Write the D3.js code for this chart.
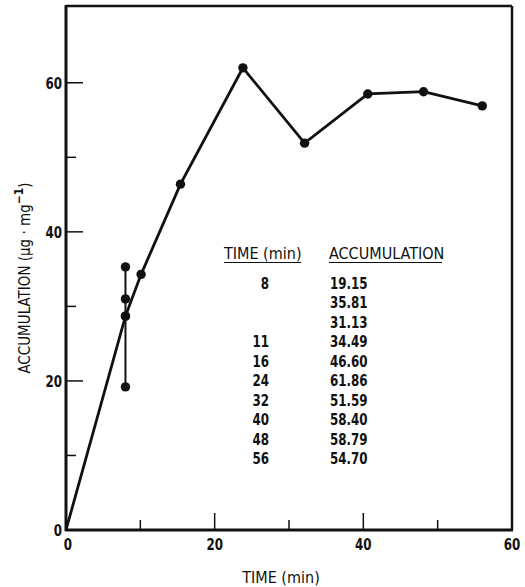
<!DOCTYPE html>
<html>
<head>
<meta charset="utf-8">
<script src="https://cdn.jsdelivr.net/npm/d3@7"></script>
<style>
  body { margin: 0; background: #fff; }
  svg text { font-family: "DejaVu Sans Condensed", "Liberation Sans Narrow", sans-serif; fill: #111; }
</style>
</head>
<body>
<svg id="chart"></svg>
<script>
// plotted line (time, accumulation), line starts at origin
const lineTimes = [0, 8, 10.1, 15.4, 23.8, 32.1, 40.6, 48.1, 56];
const lineValues = [0, 28.7, 34.3, 46.4, 62.0, 51.9, 58.5, 58.8, 56.9];
// replicate readings at 8 min (incl. the mean drawn on the line)
const repTime = 8;
const repValues = [19.2, 35.3, 31.0, 28.7];
// inset table text
const tableTimes = ["8", "", "", "11", "16", "24", "32", "40", "48", "56"];
const tableAcc = ["19.15", "35.81", "31.13", "34.49", "46.60", "61.86", "51.59", "58.40", "58.79", "54.70"];
const majorTicks = [0, 20, 40, 60];
const minorX = [10, 30, 50];
const minorY = [10, 30, 50];

const W = 525, H = 587;
const margin = { top: 6, right: 13, bottom: 57, left: 66 };
const SQ = 0.8; // horizontal squeeze for the condensed digits

const svg = d3.select("#chart").attr("width", W).attr("height", H);

const x = d3.scaleLinear().domain([0, 60]).range([margin.left, W - margin.right]);
const y = d3.scaleLinear().domain([0, 70.3]).range([H - margin.bottom, margin.top]);

const x0 = x(0), x1 = x(60), y0 = y(0), yTop = margin.top;

// frame: top and right lines
svg.append("line").attr("x1", x0).attr("x2", x1).attr("y1", yTop).attr("y2", yTop)
  .attr("stroke", "#111").attr("stroke-width", 2.5);
svg.append("line").attr("x1", x1).attr("x2", x1).attr("y1", yTop).attr("y2", y0)
  .attr("stroke", "#111").attr("stroke-width", 2.5);

// x axis: ticks point inward
const xAxis = svg.append("g").attr("transform", `translate(0,${y0})`);
xAxis.append("line").attr("x1", x0 - 1).attr("x2", x1 + 1).attr("stroke", "#111").attr("stroke-width", 3);
xAxis.selectAll(".maj").data(majorTicks.slice(1, 3)).join("line")
  .attr("x1", d => x(d)).attr("x2", d => x(d)).attr("y1", 0).attr("y2", -17)
  .attr("stroke", "#111").attr("stroke-width", 1.5);
xAxis.selectAll(".min").data(minorX).join("line")
  .attr("x1", d => x(d)).attr("x2", d => x(d)).attr("y1", 0).attr("y2", -10)
  .attr("stroke", "#111").attr("stroke-width", 1.5);
xAxis.selectAll("text").data(majorTicks).join("text")
  .attr("transform", d => `translate(${x(d) + (d === 0 ? 2 : 0)},20) scale(${SQ},1)`)
  .attr("text-anchor", "middle").style("font-size", "16.5px").style("font-weight", "bold")
  .text(d => d);

// y axis: ticks point inward
const yAxis = svg.append("g").attr("transform", `translate(${x0},0)`);
yAxis.append("line").attr("y1", yTop - 1).attr("y2", y0 + 1).attr("stroke", "#111").attr("stroke-width", 3);
yAxis.selectAll(".maj").data(majorTicks.slice(1, 4)).join("line")
  .attr("y1", d => y(d)).attr("y2", d => y(d)).attr("x1", 0).attr("x2", 17)
  .attr("stroke", "#111").attr("stroke-width", 1.5);
yAxis.selectAll(".min").data(minorY).join("line")
  .attr("y1", d => y(d)).attr("y2", d => y(d)).attr("x1", 0).attr("x2", 10)
  .attr("stroke", "#111").attr("stroke-width", 1.5);
yAxis.selectAll("text").data(majorTicks).join("text")
  .attr("transform", d => `translate(-4,${y(d) + 6}) scale(${SQ},1)`)
  .attr("text-anchor", "end").style("font-size", "16.5px").style("font-weight", "bold")
  .text(d => d);

// axis titles
svg.append("text").attr("x", 281).attr("y", 583).attr("text-anchor", "middle")
  .style("font-size", "16px").text("TIME (min)");

const yl = svg.append("text").attr("transform", "translate(30,278) rotate(-90)")
  .attr("text-anchor", "middle").style("font-size", "15px");
yl.append("tspan").text("ACCUMULATION (\u03BCg \u00B7 mg");
yl.append("tspan").attr("dy", -7).style("font-size", "12px").style("font-weight", "bold").text("\u22121");
yl.append("tspan").attr("dy", 7).text(")");

// data line
const line = d3.line().x(d => x(d[0])).y(d => y(d[1]));
const pts = lineTimes.map((t, i) => [t, lineValues[i]]);
svg.append("path").datum(pts).attr("d", line)
  .attr("fill", "none").attr("stroke", "#111").attr("stroke-width", 2.8);

// replicate range at 8 min
svg.append("line").attr("x1", x(repTime)).attr("x2", x(repTime))
  .attr("y1", y(d3.min(repValues))).attr("y2", y(d3.max(repValues)))
  .attr("stroke", "#111").attr("stroke-width", 2);

svg.selectAll("circle.pt").data(pts.slice(1)).join("circle").attr("class", "pt")
  .attr("cx", d => x(d[0])).attr("cy", d => y(d[1])).attr("r", 4.7).attr("fill", "#111");
svg.selectAll("circle.rep").data(repValues).join("circle").attr("class", "rep")
  .attr("cx", x(repTime)).attr("cy", d => y(d)).attr("r", 4.7).attr("fill", "#111");

// inset table
const tab = svg.append("g");
const hdrY = 258.5, rowY0 = 289, rowStep = 19.44;
tab.append("text").attr("x", 224).attr("y", hdrY).style("font-size", "16px").text("TIME (min)");
tab.append("text").attr("x", 329).attr("y", hdrY).style("font-size", "16px").text("ACCUMULATION");
tab.append("line").attr("x1", 224).attr("x2", 301).attr("y1", hdrY + 4).attr("y2", hdrY + 4).attr("stroke", "#111").attr("stroke-width", 1.2);
tab.append("line").attr("x1", 329).attr("x2", 442).attr("y1", hdrY + 4).attr("y2", hdrY + 4).attr("stroke", "#111").attr("stroke-width", 1.2);

tab.selectAll("text.t").data(tableTimes).join("text").attr("class", "t")
  .attr("transform", (d, i) => `translate(269,${rowY0 + i * rowStep}) scale(${SQ},1)`)
  .attr("text-anchor", "end").style("font-size", "16.5px").style("font-weight", "bold").text(d => d);
tab.selectAll("text.a").data(tableAcc).join("text").attr("class", "a")
  .attr("transform", (d, i) => `translate(330,${rowY0 + i * rowStep}) scale(${SQ},1)`)
  .style("font-size", "16.5px").style("font-weight", "bold").text(d => d);
</script>
</body>
</html>
